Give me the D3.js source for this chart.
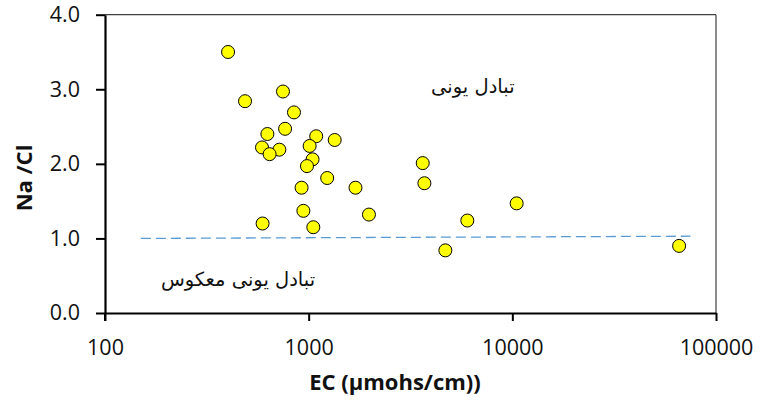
<!DOCTYPE html>
<html><head><meta charset="utf-8">
<script src="https://cdn.jsdelivr.net/npm/d3@7"></script>
<style>
html,body{margin:0;padding:0;background:#fff;}
svg{display:block;}
</style></head>
<body>
<script>
// EC (µmohs/cm) values of the samples
const ecValues = [402, 487, 748, 847, 627, 766, 1089, 1342, 1011, 590, 718, 643, 1045, 981, 1233, 923, 1698,
                  594, 942, 1054, 1977, 3631, 3700, 6012, 4690, 10500, 65900];
// Na/Cl ratio of the samples
const naclValues = [3.50, 2.84, 2.97, 2.69, 2.40, 2.47, 2.37, 2.32, 2.24, 2.22, 2.19, 2.13, 2.06, 1.97, 1.81, 1.68, 1.68,
                    1.20, 1.37, 1.15, 1.32, 2.01, 1.74, 1.24, 0.84, 1.47, 0.90];
// reference dashed line (x, y)
const refLineX = [150, 75000];
const refLineY = [1.00, 1.03];
// tick labels
const xTicks = [100, 1000, 10000, 100000];
const yTicks = [0, 1, 2, 3, 4];
// annotations
const annoText = ["تبادل یونی", "تبادل یونی معکوس"];
const annoX = [6400, 450];
const annoY = [3.02, 0.44];

const W = 760, H = 408;
const L = 105, R = 716, T = 14.7, B = 313;

const svg = d3.select("body").append("svg").attr("width", W).attr("height", H);

const x = d3.scaleLog().domain([100, 100000]).range([L, R]);
const y = d3.scaleLinear().domain([0, 4]).range([B, T]);

// frame top & right
svg.append("line").attr("x1", L).attr("x2", R).attr("y1", T).attr("y2", T)
  .attr("stroke", "#404040").attr("stroke-width", 1.2);
svg.append("line").attr("x1", R).attr("x2", R).attr("y1", T).attr("y2", B)
  .attr("stroke", "#404040").attr("stroke-width", 1.2);

const tickFont = "Open Sans, Lato, sans-serif";

// y axis
const gy = svg.append("g").attr("transform", `translate(${L},0)`)
  .call(d3.axisLeft(y).tickValues(yTicks).tickFormat(d3.format(".1f")).tickSize(9).tickSizeOuter(0).tickPadding(16));
gy.select(".domain").attr("stroke", "#000").attr("stroke-width", 2.2);
gy.selectAll(".tick line").attr("stroke", "#000").attr("stroke-width", 2);
gy.selectAll(".tick text").attr("font-family", tickFont).attr("font-size", 21.5).attr("fill", "#111");

// x axis
const gx = svg.append("g").attr("transform", `translate(0,${B})`)
  .call(d3.axisBottom(x).tickValues(xTicks).tickFormat(d3.format("d")).tickSize(8).tickSizeOuter(0).tickPadding(19));
gx.select(".domain").attr("stroke", "#000").attr("stroke-width", 2.2);
gx.selectAll(".tick line").attr("stroke", "#000").attr("stroke-width", 2);
gx.selectAll(".tick text").attr("font-family", tickFont).attr("font-size", 21.5).attr("fill", "#111");

// extend left axis line down to tick
svg.append("line").attr("x1", L).attr("x2", L).attr("y1", B).attr("y2", B + 8)
  .attr("stroke", "#000").attr("stroke-width", 2);

// reference dashed line
svg.append("line")
  .attr("x1", x(refLineX[0])).attr("y1", y(refLineY[0]))
  .attr("x2", x(refLineX[1])).attr("y2", y(refLineY[1]))
  .attr("stroke", "#5B9BD5").attr("stroke-width", 1.3).attr("stroke-dasharray", "10,5");

// points
const pts = ecValues.map((v, i) => ({ec: v, r: naclValues[i]}));
svg.append("g").selectAll("circle").data(pts).join("circle")
  .attr("cx", d => x(d.ec)).attr("cy", d => y(d.r)).attr("r", 6.5)
  .attr("fill", "#FFFF00").attr("stroke", "#000").attr("stroke-width", 1);

// annotations
svg.append("g").selectAll("text").data(annoText).join("text")
  .attr("x", (d, i) => x(annoX[i])).attr("y", (d, i) => y(annoY[i]))
  .attr("text-anchor", "middle").attr("dominant-baseline", "middle")
  .attr("direction", "rtl")
  .attr("font-family", "DejaVu Sans, sans-serif").attr("font-size", 19.5).attr("fill", "#111")
  .text(d => d);

// axis titles
svg.append("text").attr("x", 395).attr("y", 390)
  .attr("text-anchor", "middle").attr("font-family", tickFont).attr("font-weight", "bold")
  .attr("font-size", 22).attr("fill", "#111").text("EC (µmohs/cm))");
svg.append("text").attr("transform", "translate(32,178) rotate(-90)")
  .attr("text-anchor", "middle").attr("font-family", tickFont).attr("font-weight", "bold")
  .attr("font-size", 22).attr("fill", "#111").text("Na /Cl");
</script>
</body></html>
